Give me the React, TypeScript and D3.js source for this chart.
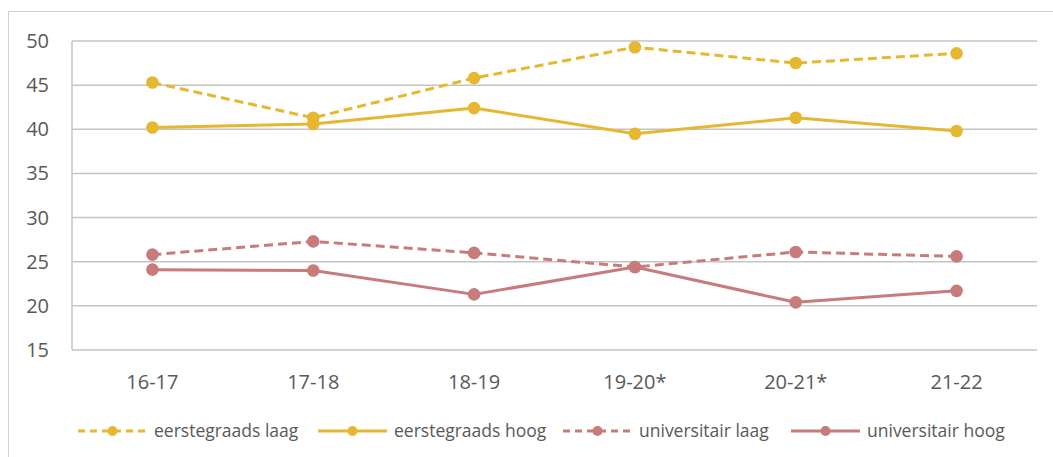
import React from "react";
import * as d3 from "d3";

const categories = ["16-17", "17-18", "18-19", "19-20*", "20-21*", "21-22"];
const eerstegraadsLaag = [45.3, 41.3, 45.8, 49.3, 47.5, 48.6];
const eerstegraadsHoog = [40.2, 40.6, 42.4, 39.5, 41.3, 39.8];
const universitairLaag = [25.8, 27.3, 26.0, 24.4, 26.1, 25.6];
const universitairHoog = [24.1, 24.0, 21.3, 24.4, 20.4, 21.7];
const yTicks = [15, 20, 25, 30, 35, 40, 45, 50];

const YELLOW = "#E6B730";
const PINK = "#C77C7B";

const series = [
  { name: "eerstegraads laag", values: eerstegraadsLaag, color: YELLOW, dashed: true },
  { name: "eerstegraads hoog", values: eerstegraadsHoog, color: YELLOW, dashed: false },
  { name: "universitair laag", values: universitairLaag, color: PINK, dashed: true },
  { name: "universitair hoog", values: universitairHoog, color: PINK, dashed: false },
];

const legendX = [78, 318, 563, 791];

export default function App() {
  const W = 1053, H = 457;
  const left = 72, right = 1037, top = 41, bottom = 350;
  const x = d3.scaleBand<string>().domain(categories).range([left, right]);
  const y = d3.scaleLinear().domain([15, 50]).range([bottom, top]);
  const cx = (c: string) => (x(c) as number) + x.bandwidth() / 2;
  const line = d3.line<number>().x((_, i) => cx(categories[i])).y((v) => y(v));
  const font = "'Open Sans', sans-serif";
  const textColor = "#595959";

  return (
    <svg width={W} height={H} style={{ position: "absolute", left: 0, top: 0 }} fontFamily={font}>
      <rect x={0} y={0} width={W} height={H} fill="#fff" />
      <rect x={8.5} y={11.5} width={W + 10} height={H + 10} fill="none" stroke="#D0D0D0" strokeWidth={1} />
      {yTicks.map((t) => (
        <g key={t}>
          <line x1={left} x2={right} y1={y(t)} y2={y(t)} stroke="#C4C4C4" strokeWidth={1.5} />
          <text x={49} y={y(t)} dy="0.35em" textAnchor="end" fontSize={20} fill={textColor}>{t}</text>
        </g>
      ))}
      <line x1={left} x2={left} y1={top} y2={bottom} stroke="#C4C4C4" strokeWidth={1.5} />
      {categories.map((c) => (
        <text key={c} x={cx(c)} y={382} dy="0.35em" textAnchor="middle" fontSize={20} fill={textColor}>{c}</text>
      ))}
      {series.map((s) => (
        <g key={s.name}>
          <path d={line(s.values) as string} fill="none" stroke={s.color} strokeWidth={3}
            strokeDasharray={s.dashed ? "9,5" : undefined} strokeLinejoin="round" />
          {s.values.map((v, i) => (
            <circle key={i} cx={cx(categories[i])} cy={y(v)} r={6.3} fill={s.color} />
          ))}
        </g>
      ))}
      {series.map((s, i) => {
        const lx = legendX[i];
        const ly = 431;
        return (
          <g key={"lg" + s.name}>
            <line x1={lx} x2={lx + 69} y1={ly} y2={ly} stroke={s.color} strokeWidth={3}
              strokeDasharray={s.dashed ? "7,5" : undefined} />
            <circle cx={lx + 34.5} cy={ly} r={5} fill={s.color} />
            <text x={lx + 76} y={ly} dy="0.35em" fontSize={17.5} fill={textColor}>{s.name}</text>
          </g>
        );
      })}
    </svg>
  );
}
